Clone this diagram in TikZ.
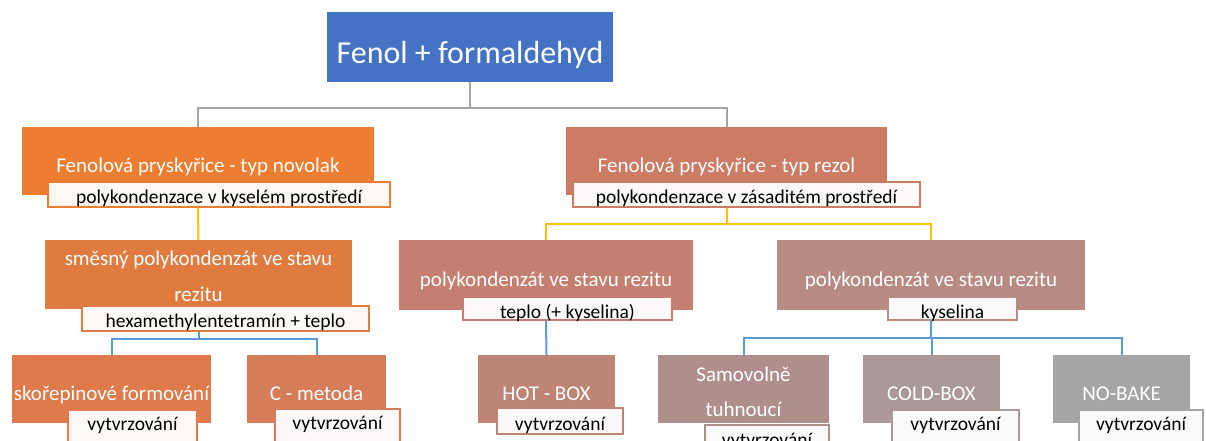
\documentclass[tikz,border=0pt]{standalone}
\usepackage{fontspec}
\setmainfont{Carlito}
\definecolor{cTop}{HTML}{4472C4}
\definecolor{cNov}{HTML}{ED7D31}
\definecolor{cRez}{HTML}{CC7B64}
\definecolor{cSme}{HTML}{E07B40}
\definecolor{cPkA}{HTML}{C47F70}
\definecolor{cPkB}{HTML}{B78B84}
\definecolor{cSko}{HTML}{DF7A4A}
\definecolor{cCme}{HTML}{D67C58}
\definecolor{cHot}{HTML}{BE8476}
\definecolor{cSam}{HTML}{AF8F8B}
\definecolor{cCol}{HTML}{AA9998}
\definecolor{cNob}{HTML}{A5A5A5}
\definecolor{lGray}{HTML}{A5A5A5}
\definecolor{lYel}{HTML}{FFC000}
\definecolor{lBlue}{HTML}{5B9BD5}
\begin{document}
\begin{tikzpicture}[x=1pt,y=-1pt,
  box/.style={fill=#1, inner sep=0pt, minimum height=68pt, text=white, align=center,
    font=\fontsize{21}{36}\selectfont},
  oneline/.style={text height=24pt, text depth=2pt},
  twoline/.style={text height=55pt, text depth=2pt},
  sub/.style={draw=#1, fill=#1!5!white, line width=2pt, inner sep=0pt, minimum height=25pt,
    text height=20pt, text depth=1pt, font=\fontsize{19.5}{22}\selectfont},
  tallsub/.style={text height=20pt, text depth=14pt},
  gline/.style={draw=lGray, line width=2pt},
  yline/.style={draw=lYel, line width=2pt},
  bline/.style={draw=lBlue, line width=2pt}]
\useasboundingbox (0,0) rectangle (1206,441);

\node[box=cTop, minimum width=286pt, minimum height=70pt, text height=36pt, text depth=2pt,
  font=\fontsize{32}{36}\selectfont] (top) at (470,47) {Fenol + formaldehyd};

\node[box=cNov, oneline, minimum width=352pt] (nov) at (198,161) {Fenolová pryskyřice - typ novolak};
\node[sub=cNov, minimum width=342pt] (novs) at (219,194) {polykondenzace v kyselém prostředí};
\node[box=cRez, oneline, minimum width=321pt] (rez) at (726.5,161) {Fenolová pryskyřice - typ rezol};
\node[sub=cRez, minimum width=347pt] (rezs) at (746.5,194) {polykondenzace v zásaditém prostředí};

\node[box=cSme, twoline, minimum width=307pt, minimum height=69pt] (sme) at (198.5,274.5) {směsný polykondenzát ve stavu\\rezitu};
\node[sub=cSme, minimum width=287pt] (smes) at (225.5,318) {hexamethylentetramín + teplo};
\node[box=cPkA, oneline, minimum width=294pt, minimum height=70pt] (pka) at (546,275) {polykondenzát ve stavu rezitu};
\node[sub=cPkA, minimum width=209pt, minimum height=23pt] (pkas) at (567.5,308.5) {teplo (+ kyselina)};
\node[box=cPkB, oneline, minimum width=308pt, minimum height=70pt] (pkb) at (931,275) {polykondenzát ve stavu rezitu};
\node[sub=cPkB, minimum width=129pt, minimum height=23pt] (pkbs) at (952.5,308.5) {kyselina};

\node[box=cSko, oneline, minimum width=199pt] (sko) at (111.5,389) {skořepinové formování};
\node[sub=cSko, tallsub, minimum width=129pt] (skos) at (132.5,427) {vytvrzování};
\node[box=cCme, oneline, minimum width=139pt] (cme) at (316.5,389) {C - metoda};
\node[sub=cCme, tallsub, minimum width=125pt] (cmes) at (337.5,426) {vytvrzování};
\node[box=cHot, oneline, minimum width=137pt] (hot) at (546.5,389) {HOT - BOX};
\node[sub=cHot, minimum width=126pt, minimum height=26pt] (hots) at (560,421) {vytvrzování};
\node[box=cSam, twoline, minimum width=171pt, text height=56pt, font=\fontsize{21}{35}\selectfont] (sam) at (743.5,389) {Samovolně\\tuhnoucí};
\node[sub=cSam, minimum width=124pt] (sams) at (767,437) {vytvrzování};
\node[box=cCol, oneline, minimum width=137pt] (col) at (931.5,389) {COLD-BOX};
\node[sub=cCol, tallsub, minimum width=127pt] (cols) at (955.5,427) {vytvrzování};
\node[box=cNob, oneline, minimum width=137pt] (nob) at (1121.5,389) {NO-BAKE};
\node[sub=cNob, tallsub, minimum width=124pt] (nobs) at (1141,427) {vytvrzování};

\draw[gline] (top.south) -- ++(0,26) -| (nov.north);
\draw[gline] (top.south) -- ++(0,26) -| (rez.north);
\draw[yline] (nov.south |- novs.south) -- (sme.north);
\draw[yline] (rez.south |- rezs.south) -- ++(0,16) -| (pka.north);
\draw[yline] (rez.south |- rezs.south) -- ++(0,16) -| (pkb.north);
\draw[bline] (sme.south |- smes.south) -- ++(0,7) -| (sko.north);
\draw[bline] (sme.south |- smes.south) -- ++(0,7) -| (cme.north);
\draw[bline] (pka.south |- pkas.south) -- (hot.north);
\draw[bline] (pkb.south |- pkbs.south) -- ++(0,17) -| (sam.north);
\draw[bline] (pkb.south |- pkbs.south) -- ++(0,17) -| (col.north);
\draw[bline] (pkb.south |- pkbs.south) -- ++(0,17) -| (nob.north);
\end{tikzpicture}
\end{document}
